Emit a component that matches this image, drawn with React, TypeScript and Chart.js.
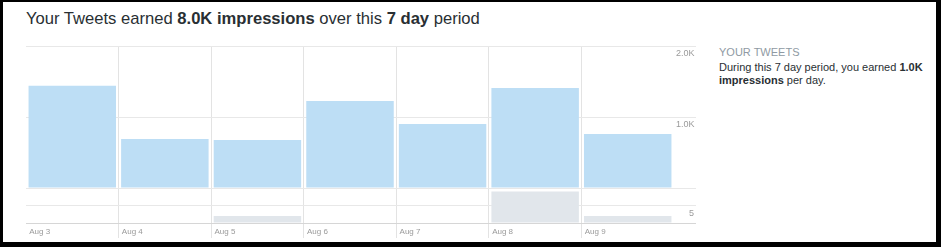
import React, { useEffect, useRef } from 'react';
import { Chart, registerables } from 'chart.js';

Chart.register(...registerables);

const categories = ['Aug 3', 'Aug 4', 'Aug 5', 'Aug 6', 'Aug 7', 'Aug 8', 'Aug 9'];
const impressions = [1440, 690, 675, 1225, 900, 1410, 760];
const engagements = [0, 0, 2, 0, 0, 9, 2];
const impressionTicks = [0, 1000, 2000];
const impressionTickLabels = ['', '1.0K', '2.0K'];
const engagementTicks = [0, 5, 10];
const engagementTickLabels = ['', '5', ''];

const FONT = "'Liberation Sans', Arial, Helvetica, sans-serif";

function ImpressionsChart() {
  const ref = useRef<HTMLCanvasElement | null>(null);
  useEffect(() => {
    if (!ref.current) return;
    const chart = new Chart(ref.current, {
      type: 'bar',
      data: {
        labels: categories,
        datasets: [
          {
            data: impressions,
            yAxisID: 'y',
            backgroundColor: '#bddef5',
            borderWidth: 0,
            grouped: false,
            barPercentage: 0.945,
            categoryPercentage: 1,
          },
          {
            data: engagements,
            yAxisID: 'y2',
            backgroundColor: '#e1e6eb',
            borderWidth: 0,
            grouped: false,
            barPercentage: 0.945,
            categoryPercentage: 1,
          },
        ],
      },
      options: {
        responsive: false,
        animation: false,
        devicePixelRatio: 1,
        layout: { padding: { top: 1, left: 0, right: 0, bottom: 0 } },
        plugins: { legend: { display: false }, tooltip: { enabled: false }, title: { display: false } },
        scales: {
          x: {
            type: 'category',
            offset: true,
            grid: {
              offset: true,
              color: (ctx: any) => (ctx.type !== 'tick' || ctx.index >= categories.length ? 'rgba(0,0,0,0)' : '#e3e3e3'),
              tickLength: 15,
            },
            border: { display: true, color: '#d6d6d6' },
            ticks: {
              align: 'start',
              labelOffset: -43,
              padding: -11,
              color: '#9a9a9a',
              font: { family: FONT, size: 8 },
              maxRotation: 0,
              autoSkip: false,
            },
            afterFit: (scale: any) => {
              scale.height = 15;
            },
          },
          y: {
            type: 'linear',
            position: 'right',
            stack: 'main',
            stackWeight: 142,
            min: 0,
            max: 2000,
            border: { display: false },
            grid: { color: '#e8e8e8', tickLength: 22 },
            afterBuildTicks: (scale: any) => {
              scale.ticks = impressionTicks.map((v) => ({ value: v }));
            },
            ticks: {
              autoSkip: false,
              crossAlign: 'near',
              padding: -20,
              labelOffset: 8,
              color: '#9a9a9a',
              font: { family: FONT, size: 9 },
              callback: (_v: any, i: number) => impressionTickLabels[i],
            },
            afterFit: (scale: any) => {
              scale.width = 22;
            },
          },
          y2: {
            type: 'linear',
            position: 'right',
            stack: 'main',
            stackWeight: 35,
            min: 0,
            max: 10,
            border: { display: false },
            grid: {
              color: (ctx: any) => (ctx.index === 0 ? '#d6d6d6' : '#e8e8e8'),
              tickLength: 22,
            },
            afterBuildTicks: (scale: any) => {
              scale.ticks = engagementTicks.map((v) => ({ value: v }));
            },
            ticks: {
              autoSkip: false,
              crossAlign: 'near',
              padding: -7,
              labelOffset: 8,
              color: '#9a9a9a',
              font: { family: FONT, size: 9 },
              callback: (_v: any, i: number) => engagementTickLabels[i],
            },
            afterFit: (scale: any) => {
              scale.width = 22;
            },
          },
        },
      } as any,
    });
    return () => chart.destroy();
  }, []);
  return <canvas ref={ref} width={670} height={193} style={{ display: 'block', width: 670, height: 193 }} />;
}

export default function App() {
  return (
    <div style={{ position: 'fixed', left: 0, top: 0, width: 941, height: 247, background: '#000', fontFamily: FONT }}>
      <div style={{ position: 'absolute', left: 3, top: 2, width: 933, height: 240, background: '#fff' }} />
      <div
        style={{
          position: 'absolute',
          left: 26,
          top: 9,
          fontSize: 16.6,
          lineHeight: '20px',
          color: '#292f33',
          whiteSpace: 'nowrap',
        }}
      >
        Your Tweets earned <b>8.0K impressions</b> over this <b>7 day</b> period
      </div>
      <div style={{ position: 'absolute', left: 26, top: 45, width: 670, height: 193 }}>
        <ImpressionsChart />
      </div>
      <div style={{ position: 'absolute', left: 719, top: 46, fontSize: 11, lineHeight: '13px', whiteSpace: 'nowrap' }}>
        <div style={{ color: '#8f9aa3', marginBottom: 2 }}>YOUR TWEETS</div>
        <div style={{ color: '#292f33', lineHeight: '13.3px' }}>
          During this 7 day period, you earned <b>1.0K</b>
          <br />
          <b>impressions</b> per day.
        </div>
      </div>
    </div>
  );
}
